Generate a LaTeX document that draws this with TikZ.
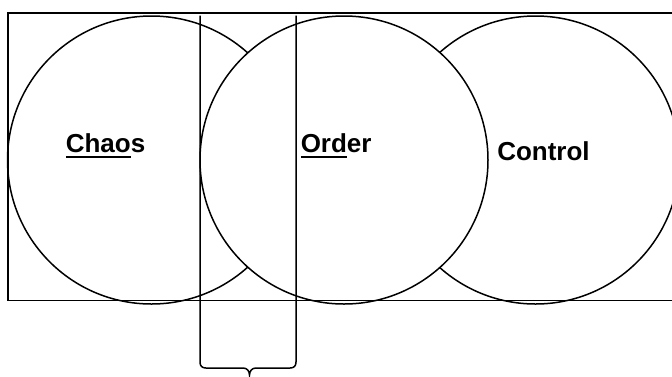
\documentclass[tikz,border=0pt]{standalone}
\usepackage{fontspec}
\setmainfont{Liberation Sans}
\newcommand{\myul}[1]{\setbox0\hbox{#1}\rlap{\rule[-6.3pt]{\wd0}{2pt}}\box0}
\tikzset{
  venn/.style={circle, draw, fill=white, minimum size=288pt, inner sep=0pt},
  lbl/.style={anchor=base west, inner sep=0pt, font=\bfseries\fontsize{26}{31}\selectfont}
}
\begin{document}
\begin{tikzpicture}[x=1pt,y=-1pt,line width=1.5pt]
\useasboundingbox (0,0) rectangle (672,376);
\clip (0,0) rectangle (672,376);
\node[venn] (control) at (535.5,160) {};
\node[venn] (chaos) at (151.5,160) {};
\node[venn] (order) at (344,160) {};
\draw (8,13) rectangle (690,300.5);
\node[lbl] (tchaos) at (65,152) {\myul{Chao}s};
\node[lbl] (torder) at (300,152) {\myul{Ord}er};
\node[lbl] (tcontrol) at (496.5,160) {Control};
\coordinate (bl) at (200,15.7);
\coordinate (br) at (296,15.7);
\draw (bl) -- (200,362) .. controls (200,366) and (202,368) .. (206,368)
  -- (243,368) .. controls (247,368) and (249.5,371) .. (249.5,375)
  .. controls (249.5,371) and (252,368) .. (256,368)
  -- (290,368) .. controls (294,368) and (296,366) .. (296,362) -- (br);
\end{tikzpicture}
\end{document}
